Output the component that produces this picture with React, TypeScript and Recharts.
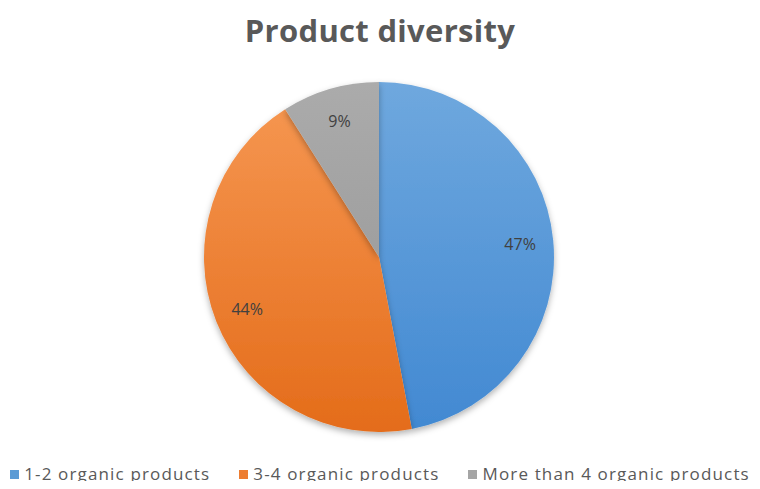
import { PieChart, Pie, Cell } from 'recharts'

const categories = ['1-2 organic products', '3-4 organic products', 'More than 4 organic products']
const shares = [47, 44, 9]

const COLORS = [
  { top: '#6fa8de', bottom: '#4289d2', legend: '#5b9bd5' },
  { top: '#f5954f', bottom: '#e46c1a', legend: '#ed7d31' },
  { top: '#ababab', bottom: '#9f9f9f', legend: '#a5a5a5' },
]

const data = categories.map((name, i) => ({ name, value: shares[i] }))

const RAD = Math.PI / 180

function renderLabel(props: any) {
  const { cx, cy, midAngle, outerRadius, value } = props
  const r = outerRadius * 0.81
  const x = cx + r * Math.cos(-midAngle * RAD)
  const y = cy + r * Math.sin(-midAngle * RAD)
  return (
    <text
      x={x}
      y={y}
      fill="#404040"
      fontSize={16}
      fontFamily="'Open Sans', sans-serif"
      textAnchor="middle"
      dominantBaseline="central"
    >
      {`${value}%`}
    </text>
  )
}

export default function App() {
  return (
    <div style={{ position: 'relative', width: 760, height: 489, margin: -8, background: '#fff' }}>
      <div
        style={{
          position: 'absolute',
          top: 9,
          left: 0,
          width: 760,
          textAlign: 'center',
          fontFamily: "'Open Sans', sans-serif",
          fontWeight: 700,
          fontSize: 31,
          letterSpacing: 0.3,
          color: '#595959',
          lineHeight: '42px',
        }}
      >
        Product diversity
      </div>
      <PieChart width={760} height={489} margin={{ top: 0, right: 0, bottom: 0, left: 0 }}>
        <defs>
          {COLORS.map((c, i) => (
            <linearGradient key={i} id={`grad${i}`} x1="0" y1="0" x2="0" y2="1">
              <stop offset="0%" stopColor={c.top} />
              <stop offset="100%" stopColor={c.bottom} />
            </linearGradient>
          ))}
          <filter id="shadow" x="-20%" y="-20%" width="140%" height="140%">
            <feDropShadow dx="0" dy="3" stdDeviation="3" floodColor="#000" floodOpacity="0.3" />
          </filter>
        </defs>
        <Pie
          data={data}
          dataKey="value"
          nameKey="name"
          cx={379}
          cy={257}
          outerRadius={175}
          startAngle={90}
          endAngle={-270}
          stroke="none"
          label={renderLabel}
          labelLine={false}
          isAnimationActive={false}
          style={{ filter: 'url(#shadow)' }}
        >
          {data.map((d, i) => (
            <Cell key={d.name} fill={`url(#grad${i})`} />
          ))}
        </Pie>
      </PieChart>
      <div
        style={{
          position: 'absolute',
          top: 463,
          left: 0,
          width: 760,
          display: 'flex',
          justifyContent: 'center',
          fontFamily: "'Open Sans', sans-serif",
          fontSize: 17,
          letterSpacing: 1.15,
          color: '#595959',
          lineHeight: '22px',
          whiteSpace: 'nowrap',
        }}
      >
        {data.map((d, i) => (
          <div key={d.name} style={{ display: 'flex', alignItems: 'center', marginRight: i < data.length - 1 ? 29 : 0 }}>
            <span style={{ width: 9, height: 9, background: COLORS[i].legend, marginRight: 5, display: 'inline-block' }} />
            <span>{d.name}</span>
          </div>
        ))}
      </div>
    </div>
  )
}
